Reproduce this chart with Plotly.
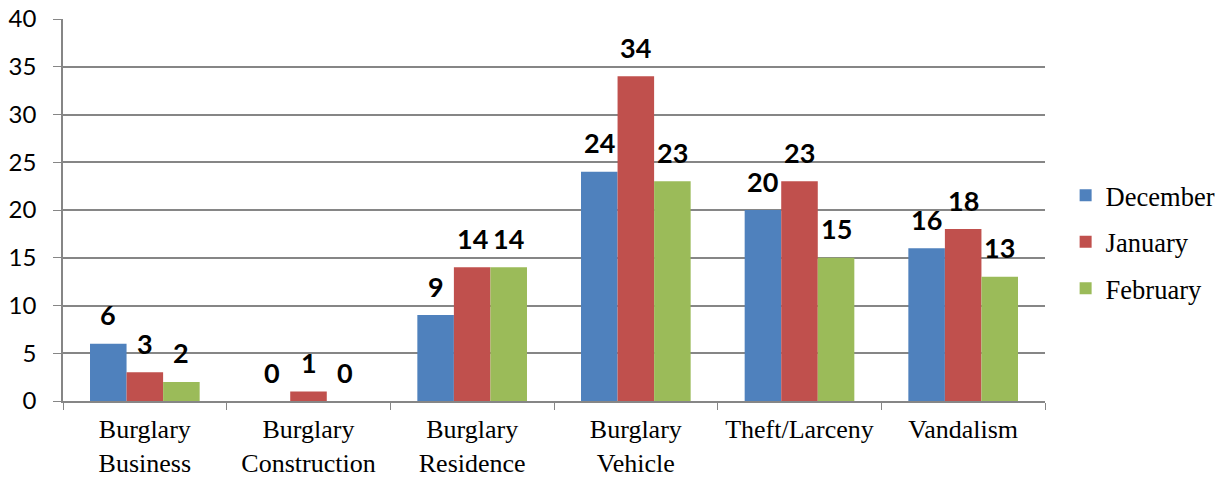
import plotly.graph_objects as go

categories = ["Burglary<br>Business", "Burglary<br>Construction", "Burglary<br>Residence",
              "Burglary<br>Vehicle", "Theft/Larceny", "Vandalism"]
december = [6, 0, 9, 24, 20, 16]
january = [3, 1, 14, 34, 23, 18]
february = [2, 0, 14, 23, 15, 13]
series_names = ["December", "January", "February"]
series_values = [december, january, february]
colors = ["#4F81BD", "#C0504D", "#9BBB59"]
y_ticks = [0, 5, 10, 15, 20, 25, 30, 35, 40]

bargap = 0.33
n_series = len(series_names)
bar_w = (1 - bargap) / n_series

fig = go.Figure()
for k, (name, vals) in enumerate(zip(series_names, series_values)):
    fig.add_trace(go.Bar(
        x=categories, y=vals, name=name, legendgroup=name,
        marker=dict(color=colors[k], line=dict(width=0)),
    ))

annotations = []
for k, vals in enumerate(series_values):
    for i, v in enumerate(vals):
        annotations.append(dict(
            x=i + (k - (n_series - 1) / 2) * bar_w, y=v, xref="x", yref="y",
            text=str(v), showarrow=False, yanchor="middle", yshift=29,
            font=dict(family="Lato", size=27, color="black", weight="bold"),
        ))

grid_color = "#868686"
fig.update_layout(
    width=1225, height=477,
    margin=dict(l=63, r=180, t=19, b=76, autoexpand=False),
    plot_bgcolor="white", paper_bgcolor="white",
    barmode="group", bargap=bargap, bargroupgap=0,
    annotations=annotations,
    showlegend=True,
    legend=dict(x=1.021, y=0.416, xanchor="left", yanchor="middle",
                font=dict(family="Liberation Serif", size=26.5, color="black"),
                tracegroupgap=9, bgcolor="rgba(0,0,0,0)"),
    xaxis=dict(
        automargin=False,
        showline=True, linecolor=grid_color, linewidth=1.5,
        ticks="outside", tickson="boundaries", ticklen=7, tickcolor=grid_color,
        tickfont=dict(family="Liberation Serif", size=26, color="black"),
        showgrid=False, ticklabelstandoff=4,
    ),
    yaxis=dict(
        automargin=False,
        range=[0, 40], tickvals=y_ticks,
        showline=True, linecolor=grid_color, linewidth=1.5,
        ticks="outside", ticklen=8, tickcolor=grid_color,
        showgrid=True, gridcolor=grid_color, gridwidth=1.5,
        zeroline=False,
        tickfont=dict(family="Lato", size=24, color="black"),
        ticklabelstandoff=12,
    ),
)

fig.write_html("out.html")
